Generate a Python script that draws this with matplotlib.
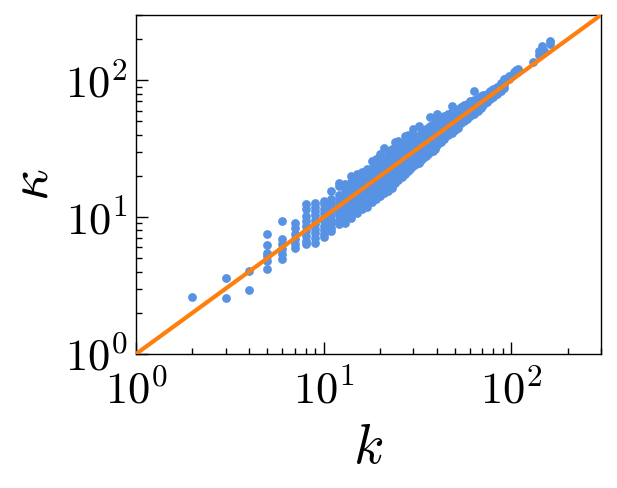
import numpy as np
import matplotlib
matplotlib.use("Agg")
import matplotlib.pyplot as plt

# degree k (one entry per column of points) and the kappa values read at that k
k_cols = [2, 3, 4, 5, 6, 7, 8, 9, 10, 11, 12, 13, 14, 15, 16, 17, 18, 19, 20,
          21, 22, 23, 24, 25, 26, 27, 28, 29, 30, 31, 32, 33, 34, 35, 36, 37,
          38, 39, 40, 42, 44, 46, 48, 50, 52, 54, 56, 58, 60, 63, 66, 69, 71,
          74, 77, 80, 84, 88, 91, 93, 97, 103, 106, 109, 130, 141, 145, 150, 161]
kappa_cols = [
    [2.6],
    [3.6, 2.55],
    [4.05, 2.95],
    [7.5, 6.3, 5.5, 5.2, 4.8, 4.2],
    [9.35, 6.9, 6.35, 5.85, 5.35, 4.95],
    [9.0, 8.4, 7.5, 6.9, 6.35, 5.9],
    [12.5, 11.4, 10.2, 9.4, 8.6, 7.9, 7.3, 6.7, 6.35],
    [12.6, 11.8, 11.0, 10.3, 9.6, 8.9, 8.2, 7.6, 7.0, 6.5],
    [13.2, 12.4, 11.5, 10.7, 10.0, 9.3, 8.6, 8.0, 7.5, 7.1],
    [15.6, 13.5, 12.6, 11.8, 11.0, 10.3, 9.6, 9.0, 8.4, 7.9],
    [17.9, 16.8, 14.5, 13.5, 12.6, 11.8, 11.0, 10.3, 9.6, 8.9],
    [17.5, 15.5, 14.5, 13.6, 12.8, 12.0, 11.2, 10.4, 9.7, 9.1],
    [20.0, 18.0, 16.5, 15.3, 14.3, 13.4, 12.5, 11.6, 10.7, 9.9],
    [20.6, 19.0, 17.5, 16.2, 15.2, 14.2, 13.3, 12.4, 11.5, 10.8],
    [21.2, 19.8, 18.5, 17.2, 16.1, 15.0, 14.0, 13.1, 12.2, 11.4],
    [22.4, 21.0, 19.6, 18.3, 17.1, 16.0, 14.9, 13.8, 12.8, 11.8],
    [25.8, 23.0, 21.0, 19.5, 18.2, 17.0, 15.8, 14.7, 13.7, 12.8],
    [26.5, 24.0, 22.0, 20.5, 19.1, 17.8, 16.6, 15.4, 14.4, 13.5],
    [29.0, 25.5, 23.2, 21.5, 20.0, 18.6, 17.3, 16.1, 15.0, 14.2],
    [32.0, 27.0, 24.5, 22.6, 21.0, 19.5, 18.2, 16.9, 15.7, 15.0],
    [30.5, 28.0, 25.7, 23.7, 22.0, 20.5, 19.1, 17.7, 16.3, 15.6],
    [31.5, 29.0, 26.8, 24.8, 23.0, 21.4, 19.9, 18.5, 17.1, 16.4],
    [35.2, 30.5, 28.0, 25.8, 24.0, 22.3, 20.7, 19.2, 17.9],
    [36.0, 32.0, 29.2, 27.0, 25.0, 23.2, 21.5, 19.9, 18.8],
    [35.0, 33.0, 30.2, 28.0, 26.0, 24.2, 22.4, 20.7, 19.8],
    [39.3, 34.0, 31.3, 29.0, 27.0, 25.1, 23.3, 21.6, 20.8],
    [40.0, 35.5, 32.5, 30.0, 28.0, 26.0, 24.2, 22.5, 21.8],
    [37.0, 33.5, 31.0, 29.0, 27.0, 25.1, 23.3, 22.6],
    [44.0, 40.0, 36.0, 33.0, 30.5, 28.5, 26.5, 24.6, 23.6],
    [38.0, 34.0, 31.5, 29.5, 27.5, 25.5, 24.5],
    [46.5, 39.0, 35.0, 32.5, 30.5, 28.5, 26.5, 25.0],
    [41.0, 36.0, 33.5, 31.5, 29.5, 27.5, 26.0],
    [42.0, 37.5, 35.0, 32.5, 30.5, 28.5, 27.0],
    [44.0, 39.0, 36.0, 33.5, 31.5, 29.5, 28.0],
    [45.0, 40.0, 37.0, 34.5, 32.5, 30.5, 29.0],
    [53.5, 46.0, 41.0, 38.0, 35.5, 33.0, 31.0, 29.8],
    [47.0, 42.0, 39.0, 36.5, 34.0, 31.5, 30.5],
    [48.0, 43.0, 40.0, 37.5, 35.0, 32.5, 31.5],
    [56.6, 50.0, 45.0, 41.5, 38.5, 36.0, 33.5],
    [52.0, 47.0, 43.5, 40.5, 38.0, 35.5],
    [55.0, 49.0, 45.5, 42.5, 39.5, 37.5],
    [57.0, 51.0, 47.5, 44.5, 41.5, 39.5],
    [65.0, 59.0, 53.0, 49.5, 46.0, 43.0, 41.0],
    [61.0, 55.0, 51.5, 48.0, 45.0, 43.0],
    [62.0, 57.0, 53.5, 50.0, 47.0, 45.0],
    [64.0, 59.0, 55.5, 52.0, 48.5],
    [66.0, 61.0, 57.5, 54.0, 50.5],
    [67.0, 63.0, 59.5, 55.5, 52.5],
    [70.0, 65.0, 61.0, 57.0, 54.5],
    [84.0, 72.0, 67.0, 63.5, 60.0, 57.0],
    [74.0, 70.0, 66.0, 62.5, 60.0],
    [77.0, 73.0, 69.0, 65.5, 63.0],
    [78.0, 75.0, 72.0, 66.0],
    [80.0, 77.0, 74.0, 69.0],
    [84.0, 80.0, 77.0, 73.0],
    [86.0, 84.0, 81.0, 76.0],
    [90.0, 87.0, 80.0],
    [95.0, 91.0, 84.0],
    [102.0, 94.0, 88.0],
    [102.0, 98.0],
    [108.0, 103.0],
    [114.0],
    [118.0],
    [121.0],
    [135.0],
    [165.0, 153.0],
    [179.0],
    [165.0],
    [195.0, 184.0],
]
diag = [1, 300]
x_ticks = [1, 10, 100]
y_ticks = [1, 10, 100]
tick_labels = [r"$10^{0}$", r"$10^{1}$", r"$10^{2}$"]

plt.rcParams["mathtext.fontset"] = "cm"

k = np.concatenate([[kc] * len(v) for kc, v in zip(k_cols, kappa_cols)])
kappa = np.concatenate(kappa_cols)

fig = plt.figure(figsize=(6.17, 4.88), dpi=100)
ax = fig.add_axes([0.2204, 0.2746, 0.7536, 0.6947])

ax.scatter(k, kappa, s=40, color="#5893e3", linewidths=0, zorder=2)
ax.plot(diag, diag, color="#ff7f0e", lw=3, zorder=3)

ax.set_xscale("log")
ax.set_yscale("log")
ax.set_xlim(diag)
ax.set_ylim(diag)
ax.set_xticks(x_ticks)
ax.set_xticklabels(tick_labels)
ax.set_yticks(y_ticks)
ax.set_yticklabels(tick_labels)

ax.tick_params(which="both", direction="in", top=False, right=False, width=1)
ax.tick_params(which="major", length=8.5, labelsize=32)
ax.tick_params(which="minor", length=4.5)
ax.tick_params(axis="x", which="major", pad=11)
ax.tick_params(axis="y", which="major", pad=6)
for sp in ax.spines.values():
    sp.set_linewidth(1)

ax.set_xlabel(r"$k$", fontsize=40, labelpad=6)
ax.set_ylabel(r"$\kappa$", fontsize=40, labelpad=4)

fig.savefig("out.png", dpi=100)
